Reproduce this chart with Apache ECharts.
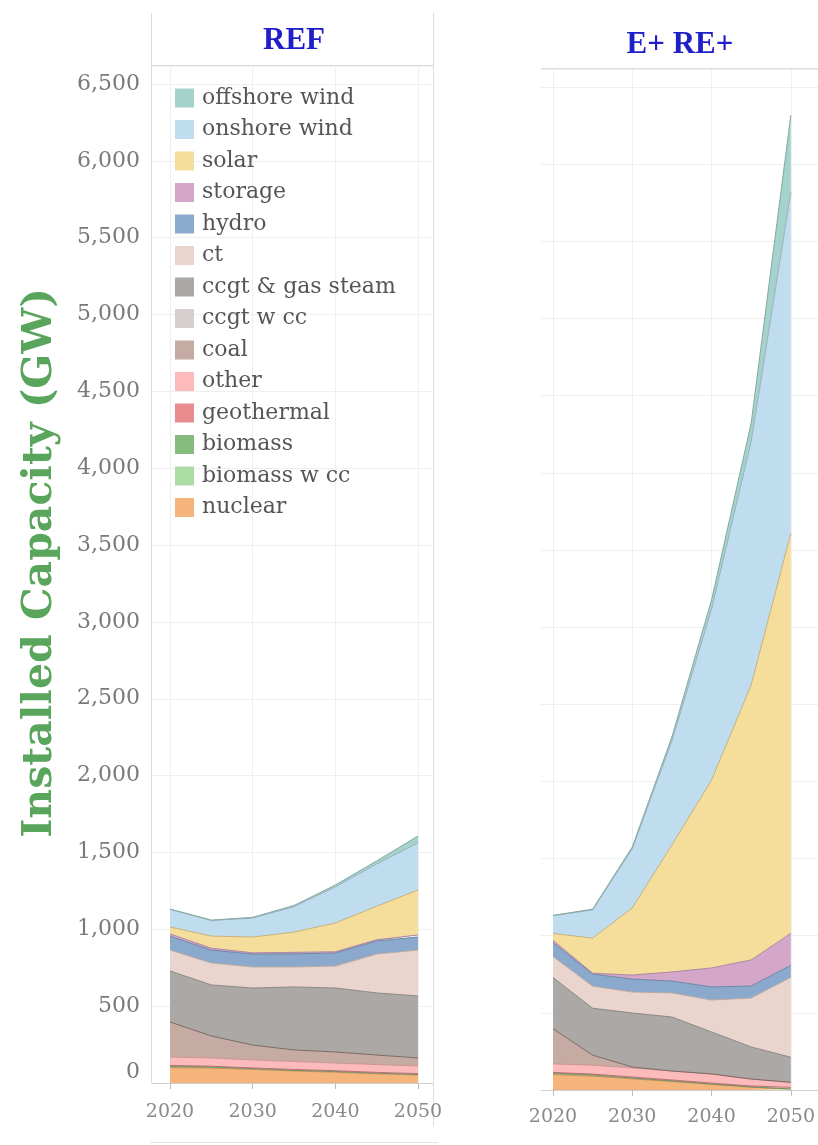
<!DOCTYPE html>
<html>
<head>
<meta charset="utf-8">
<title>Installed Capacity (GW)</title>
<script src="https://cdn.jsdelivr.net/npm/echarts@6/dist/echarts.min.js"></script>
<style>
  html, body { margin: 0; padding: 0; background: #ffffff; }
  #chart { width: 818px; height: 1145px; }
</style>
</head>
<body>
<div id="chart"></div>
<script>
// ---- data -------------------------------------------------------------
const years = ['2020', '2025', '2030', '2035', '2040', '2045', '2050'];
const yTickStep = 500;
const yTickTop = 6500;

// technologies, bottom of the stack first
const techNames = ['nuclear', 'biomass w cc', 'biomass', 'geothermal', 'other', 'coal',
  'ccgt w cc', 'ccgt & gas steam', 'ct', 'hydro', 'storage', 'solar', 'onshore wind', 'offshore wind'];

// REF scenario (GW)
const refNuclear    = [100, 97, 88, 78, 70, 60, 52];
const refBiomassCc  = [0, 0, 0, 0, 0, 0, 0];
const refBiomass    = [10, 8, 6, 5, 5, 4, 4];
const refGeothermal = [4, 4, 4, 5, 5, 5, 5];
const refOther      = [55, 54, 52, 52, 50, 51, 50];
const refCoal       = [228, 143, 97, 75, 72, 62, 52];
const refCcgtCc     = [0, 0, 0, 0, 0, 0, 0];
const refCcgt       = [332, 332, 371, 410, 416, 404, 403];
const refCt         = [136, 143, 137, 130, 143, 253, 299];
const refHydro      = [90, 84, 84, 85, 85, 85, 85];
const refStorage    = [15, 12, 8, 10, 8, 8, 13];
const refSolar      = [45, 79, 103, 132, 187, 218, 293];
const refOnshore    = [115, 101, 123, 165, 235, 275, 306];
const refOffshore   = [2, 3, 5, 8, 12, 20, 45];

// E+ RE+ scenario (GW)
const ereNuclear    = [100, 90, 72, 55, 36, 18, 5];
const ereBiomassCc  = [0, 0, 0, 0, 0, 0, 0];
const ereBiomass    = [10, 8, 6, 4, 3, 2, 2];
const ereGeothermal = [4, 5, 6, 6, 6, 6, 10];
const ereOther      = [55, 58, 59, 58, 59, 45, 33];
const ereCoal       = [228, 65, 6, 0, 0, 0, 0];
const ereCcgtCc     = [0, 0, 0, 0, 0, 0, 0];
const ereCcgt       = [332, 304, 350, 350, 272, 208, 162];
const ereCt         = [136, 143, 136, 156, 207, 317, 518];
const ereHydro      = [90, 78, 84, 77, 85, 78, 78];
const ereStorage    = [15, 6, 26, 59, 123, 169, 207];
const ereSolar      = [45, 227, 435, 823, 1218, 1782, 2593];
const ereOnshore    = [115, 183, 383, 675, 1107, 1578, 2209];
const ereOffshore   = [2, 5, 12, 25, 60, 120, 500];

const refSeries = [refNuclear, refBiomassCc, refBiomass, refGeothermal, refOther, refCoal,
  refCcgtCc, refCcgt, refCt, refHydro, refStorage, refSolar, refOnshore, refOffshore];
const ereSeries = [ereNuclear, ereBiomassCc, ereBiomass, ereGeothermal, ereOther, ereCoal,
  ereCcgtCc, ereCcgt, ereCt, ereHydro, ereStorage, ereSolar, ereOnshore, ereOffshore];

// ---- styling ------------------------------------------------------------
const techColors = {
  'nuclear': '#f5b57a',
  'biomass w cc': '#abdca4',
  'biomass': '#86bb7e',
  'geothermal': '#e88c8e',
  'other': '#fdbaba',
  'coal': '#c5aba2',
  'ccgt w cc': '#d5cfcf',
  'ccgt & gas steam': '#aca8a6',
  'ct': '#e9d5cd',
  'hydro': '#8aa9cc',
  'storage': '#d4a6c9',
  'solar': '#f5de9b',
  'onshore wind': '#c0ddf0',
  'offshore wind': '#a5d3cb'
};

function darken(hex, f) {
  const n = parseInt(hex.slice(1), 16);
  const r = Math.round(((n >> 16) & 255) * f);
  const g = Math.round(((n >> 8) & 255) * f);
  const b = Math.round((n & 255) * f);
  return 'rgb(' + r + ',' + g + ',' + b + ')';
}

const serif = '"DejaVu Serif", "Liberation Serif", serif';
const gridColor = '#efefef';
const frameColor = '#dcdcdc';
const axisMax = 6617;  // top of the plotting box, just above the 6,500 line

function panelSeries(values, dataAxis, stackId) {
  return techNames.map(function (name, i) {
    const arr = values[i];
    const hasValue = arr.some(function (v) { return v > 0; });
    return {
      type: 'line',
      name: name,
      stack: stackId,
      xAxisIndex: dataAxis,
      yAxisIndex: dataAxis,
      symbol: 'none',
      silent: true,
      data: arr,
      itemStyle: { color: techColors[name] },
      lineStyle: { color: darken(techColors[name], name === 'coal' ? 0.62 : 0.8), width: hasValue ? 1 : 0 },
      areaStyle: { color: techColors[name], opacity: 1 }
    };
  });
}

const yLabelFmt = function (v) { return v.toLocaleString('en-US'); };

function bgX(grid) {
  return {
    gridIndex: grid, type: 'value', min: 0, max: 1,
    axisLine: { show: true, lineStyle: { color: '#cfcfcf', width: 1 } },
    axisTick: { show: false }, axisLabel: { show: false }, splitLine: { show: false }
  };
}
// every other 5-year step carries a label, tick and grid line
function dataX(grid, margin) {
  return {
    gridIndex: grid, type: 'category', data: years, boundaryGap: false,
    axisLine: { show: false },
    axisTick: { show: true, interval: 1, length: 6, lineStyle: { color: '#bdbdbd' } },
    axisLabel: { show: true, interval: 1, fontFamily: serif, fontSize: 19, color: '#8a8a8a', margin: margin },
    splitLine: { show: true, interval: 1, lineStyle: { color: gridColor, width: 1 } }
  };
}

const option = {
  animation: false,
  backgroundColor: '#ffffff',
  grid: [
    { left: 152, width: 281, top: 66, height: 1017 },
    { left: 170, width: 248, top: 66, height: 1017 },
    { left: 541, width: 277, top: 69, height: 1021 },
    { left: 553, width: 250, top: 69, height: 1021 }
  ],
  xAxis: [bgX(0), dataX(1, 20), bgX(2), dataX(3, 18)],
  yAxis: [
    {
      gridIndex: 0, type: 'value', min: 0, max: axisMax, interval: yTickStep,
      axisLine: { show: false }, axisTick: { show: false },
      axisLabel: {
        formatter: function (v) { return v <= yTickTop ? yLabelFmt(v) : ''; },
        showMaxLabel: false, fontFamily: serif, fontSize: 22, color: '#7a7a7a', margin: 12,
        verticalAlignMinLabel: 'bottom'
      },
      splitLine: { show: true, lineStyle: { color: gridColor, width: 1 } }
    },
    { gridIndex: 1, type: 'value', min: 0, max: axisMax, show: false },
    {
      gridIndex: 2, type: 'value', min: 0, max: axisMax, interval: yTickStep,
      axisLine: { show: false }, axisTick: { show: false }, axisLabel: { show: false },
      splitLine: { show: true, lineStyle: { color: gridColor, width: 1 } }
    },
    { gridIndex: 3, type: 'value', min: 0, max: axisMax, show: false }
  ],
  legend: {
    data: techNames.slice().reverse(),
    orient: 'vertical',
    left: 170,
    top: 82,
    itemWidth: 19,
    itemHeight: 19,
    itemGap: 9.5,
    icon: 'rect',
    selectedMode: false,
    textStyle: { fontFamily: serif, fontSize: 22, color: '#555555', padding: [0, 0, 0, 3] }
  },
  series: panelSeries(refSeries, 1, 'ref').concat(panelSeries(ereSeries, 3, 'ere')),
  graphic: [
    // panel frames
    { type: 'line', silent: true, shape: { x1: 151.5, y1: 13, x2: 151.5, y2: 1083 }, style: { stroke: frameColor, lineWidth: 1 } },
    { type: 'line', silent: true, shape: { x1: 433.5, y1: 13, x2: 433.5, y2: 1126 }, style: { stroke: frameColor, lineWidth: 1 } },
    { type: 'line', silent: true, shape: { x1: 152, y1: 65.5, x2: 434, y2: 65.5 }, style: { stroke: frameColor, lineWidth: 1 } },
    { type: 'line', silent: true, shape: { x1: 150, y1: 1142.5, x2: 438, y2: 1142.5 }, style: { stroke: '#e4e4e4', lineWidth: 1 } },
    { type: 'line', silent: true, shape: { x1: 541, y1: 68.5, x2: 818, y2: 68.5 }, style: { stroke: frameColor, lineWidth: 1 } },
    // panel headers
    { type: 'text', silent: true, x: 294, y: 41,
      style: { text: 'REF', fill: '#1f1fc9', font: 'bold 31px "Liberation Serif", serif', textAlign: 'center', textVerticalAlign: 'middle' } },
    { type: 'text', silent: true, x: 680, y: 45,
      style: { text: 'E+ RE+', fill: '#1f1fc9', font: 'bold 31px "Liberation Serif", serif', textAlign: 'center', textVerticalAlign: 'middle' } },
    // y-axis title
    { type: 'text', silent: true, x: 40, y: 563, rotation: Math.PI / 2,
      style: { text: 'Installed Capacity (GW)', fill: '#5aa55c', font: 'bold 41px "DejaVu Serif", serif', textAlign: 'center', textVerticalAlign: 'middle' } }
  ]
};

const chart = echarts.init(document.getElementById('chart'), null, { renderer: 'canvas' });
chart.setOption(option);
</script>
</body>
</html>
